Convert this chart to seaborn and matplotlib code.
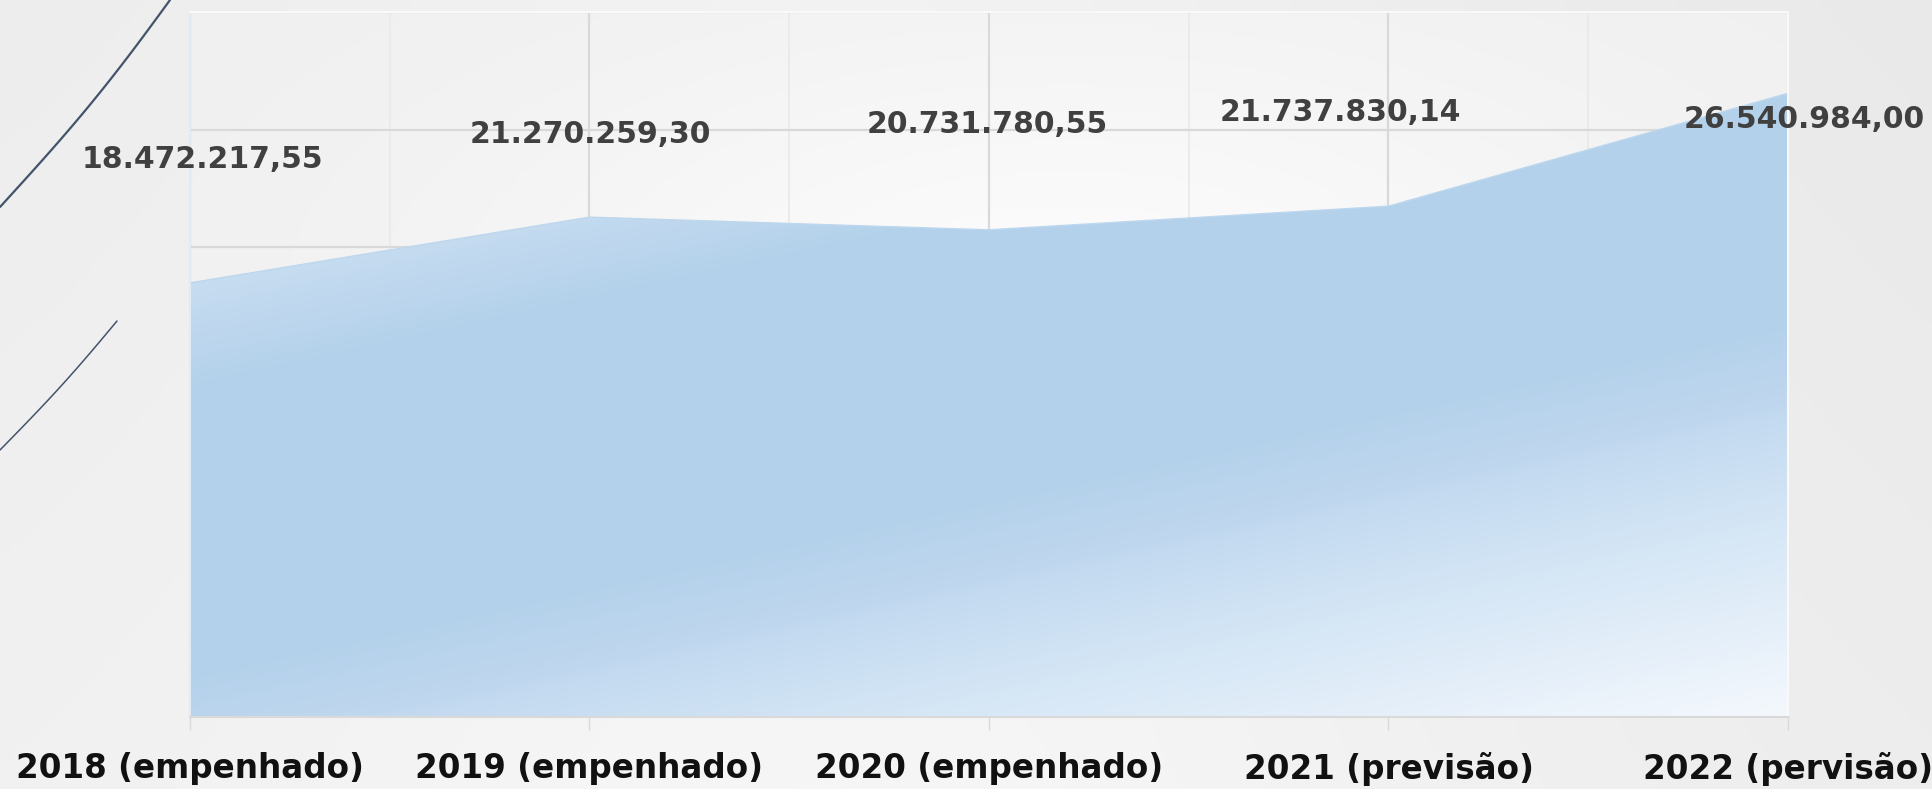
import numpy as np
import matplotlib
matplotlib.use("Agg")
import matplotlib.pyplot as plt
from matplotlib.colors import LinearSegmentedColormap
from matplotlib.lines import Line2D
import seaborn as sns

# ---------------- data ----------------
categories = ["2018 (empenhado)", "2019 (empenhado)", "2020 (empenhado)",
              "2021 (previsão)", "2022 (pervisão)"]
values = [18472217.55, 21270259.30, 20731780.55, 21737830.14, 26540984.00]
value_labels = ["18.472.217,55", "21.270.259,30", "20.731.780,55",
                "21.737.830,14", "26.540.984,00"]
y_ticks = [0, 5e6, 10e6, 15e6, 20e6, 25e6, 30e6]

# label offsets (pixels) - layout only
label_offsets = [(12, 123), (1, 83), (-2, 105), (-48, 94), (16, -26)]

sns.set_theme(style="white")
plt.rcParams["font.family"] = ["DejaVu Sans"]

W, H = 1933, 789
fig = plt.figure(figsize=(W / 100, H / 100), dpi=100)

# figure background gradient
bg = fig.add_axes([0, 0, 1, 1], zorder=-10)
BX, BY = np.meshgrid(np.linspace(0, 1, 400), np.linspace(0, 1, 200))
bgval = 0.925 + 0.03 * np.exp(-((BX - 0.45) ** 2) / 0.12) + 0.015 * (1 - BY) - 0.012 * BX
bg.imshow(np.dstack([bgval, bgval, bgval * 1.002]).clip(0, 1), extent=[0, 1, 0, 1],
          aspect="auto", origin="lower")
bg.set_axis_off()

# decorative lines (top-left)
t = np.linspace(0, 1, 50)
x1 = 170 * t + 6 * np.sin(np.pi * t)
y1 = 207 * (1 - t)
fig.add_artist(Line2D(x1 / W, 1 - y1 / H, color="#44546a", lw=1.6))
x2 = 117 * t + 3 * np.sin(np.pi * t)
y2 = 450 - 129 * t
fig.add_artist(Line2D(x2 / W, 1 - y2 / H, color="#44546a", lw=1.1))

left, right, top, bottom = 190, 1788, 12, 717
ax = fig.add_axes([left / W, 1 - bottom / H, (right - left) / W, (bottom - top) / H])

x = np.arange(len(categories))
ax.set_xlim(0, len(categories) - 1)
ax.set_ylim(y_ticks[0], y_ticks[-1])
ext = [0, len(categories) - 1, y_ticks[0], y_ticks[-1]]

# plot area background
ax.set_facecolor("#f4f4f4")
AX, AY = np.meshgrid(np.linspace(0, 1, 400), np.linspace(0, 1, 200))
abg = 0.94 + 0.045 * np.exp(-((AX - 0.55) ** 2 + (AY - 0.6) ** 2) / 0.15)
ax.imshow(np.dstack([abg, abg, abg]).clip(0, 1), extent=ext,
          aspect="auto", origin="lower", zorder=0.1)

# top edge line via seaborn
sns.lineplot(x=x, y=values, ax=ax, color="#bdd7ee", lw=1, zorder=3)

poly = ax.fill_between(x, values, 0, color="none", lw=0)
path = poly.get_paths()[0]

cmap = LinearSegmentedColormap.from_list(
    "g", [(0.0, "#d0e2f3"), (0.25, "#c8ddf1"), (0.36, "#b3d1eb"), (0.62, "#b3d1eb"),
          (0.69, "#bdd6ee"), (0.73, "#c6dcf1"), (0.82, "#d6e7f6"), (0.90, "#e3eef9"),
          (1.0, "#f4f8fd")])
pw, ph = right - left, bottom - top
GX, GY = np.meshgrid(np.linspace(0, pw, 800), np.linspace(0, ph, 400))
U = (GY + 0.22 * GX) / (ph + 0.22 * pw)
im = ax.imshow(U, extent=ext, aspect="auto", origin="upper", cmap=cmap,
               vmin=0, vmax=1, zorder=2)
im.set_clip_path(path, transform=ax.transData)

# grid
ax.set_yticks(y_ticks)
ax.set_xticks(x)
ax.set_xticks(x[:-1] + 0.5, minor=True)
ax.set_axisbelow(True)
ax.grid(axis="y", which="major", color="#d9d9d9", lw=1.6)
ax.grid(axis="x", which="major", color="#d9d9d9", lw=1.6)
ax.grid(axis="x", which="minor", color="#e9e9e9", lw=1.2)
for gl in ax.get_xgridlines() + ax.get_ygridlines():
    gl.set_zorder(0.5)

ax.set_xticklabels(categories)
ax.tick_params(axis="y", length=0, labelleft=False)
ax.tick_params(axis="x", which="major", direction="out", length=9, width=1,
               color="#d9d9d9", pad=16, labelsize=23.5, labelcolor="#111111", bottom=True)
ax.tick_params(axis="x", which="minor", length=0)
for lbl in ax.get_xticklabels():
    lbl.set_fontweight("bold")

ax.spines["left"].set_color("#e2eaf3")
for s in ["top", "right"]:
    ax.spines[s].set_color("#f9f9f9")
ax.spines["bottom"].set_color("#d9d9d9")
for s in ax.spines.values():
    s.set_linewidth(1.5)
    s.set_zorder(4)

# value labels
for xi, v, lab, (dx, dy) in zip(x, values, value_labels, label_offsets):
    ax.annotate(lab, (xi, v), xytext=(dx, dy), textcoords="offset pixels",
                ha="center", va="center", fontsize=21.5, fontweight="bold",
                color="#404040", zorder=5, annotation_clip=False)

fig.savefig("out.png", dpi=100)
